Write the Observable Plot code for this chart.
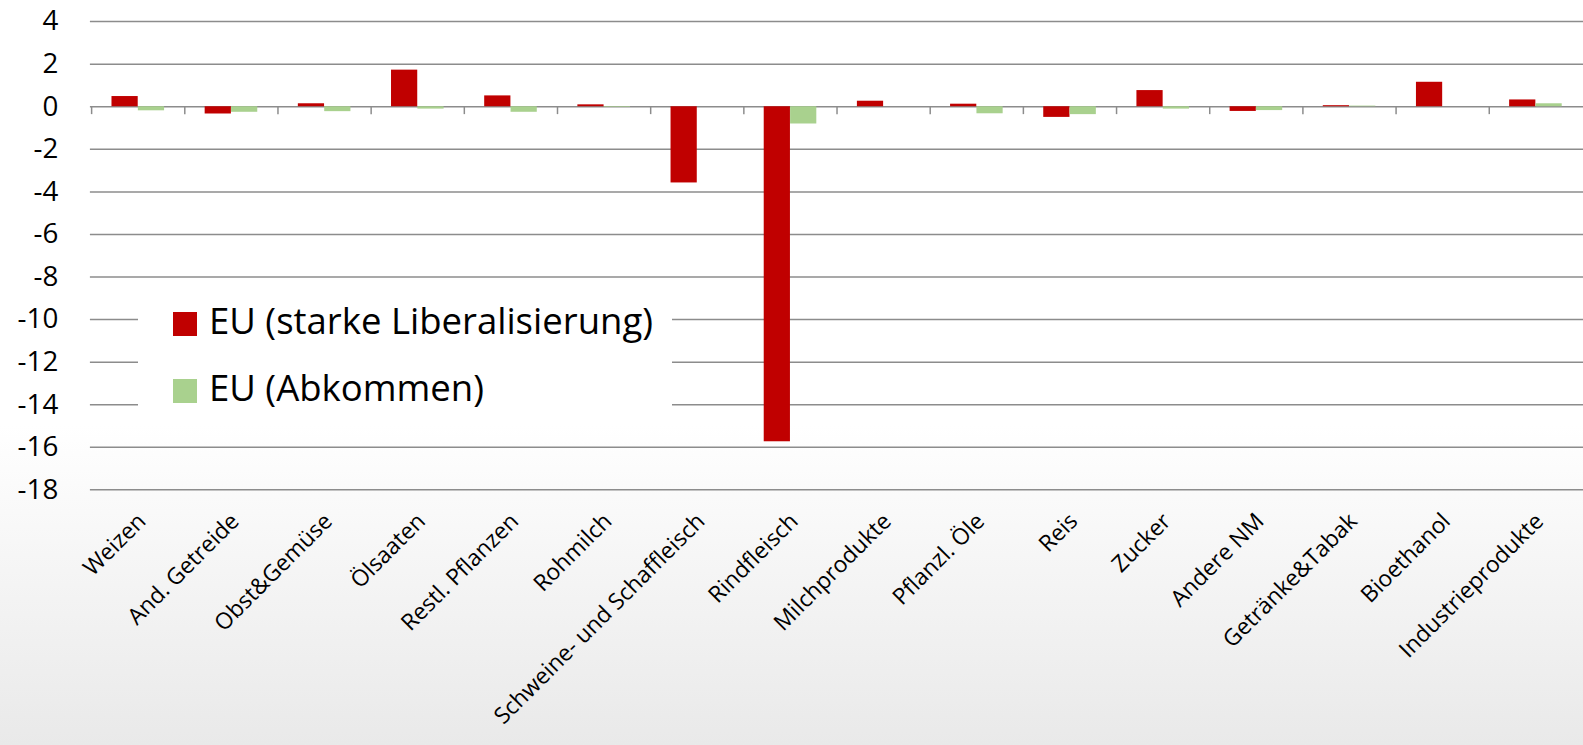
<!DOCTYPE html>
<html><head><meta charset="utf-8">
<script src="https://cdn.jsdelivr.net/npm/d3@7"></script>
<script src="https://cdn.jsdelivr.net/npm/@observablehq/plot@0.6"></script>
<style>
html,body{margin:0;padding:0;width:1583px;height:745px;overflow:hidden;}
body{background:linear-gradient(to bottom,#ffffff 0%,#ffffff 57%,#e9e9e9 100%);font-family:"Open Sans",sans-serif;position:relative;}
#chart{position:absolute;left:0;top:0;}
#legend{position:absolute;left:138px;top:288px;width:534px;height:137px;background:#fff;}
</style></head><body>
<div id="chart"></div>
<div id="legend"></div>
<script>
const categories = ["Weizen","And. Getreide","Obst&Gemüse","Ölsaaten","Restl. Pflanzen","Rohmilch","Schweine- und Schaffleisch","Rindfleisch","Milchprodukte","Pflanzl. Öle","Reis","Zucker","Andere NM","Getränke&Tabak","Bioethanol","Industrieprodukte"];
const seriesNames = ["EU (starke Liberalisierung)","EU (Abkommen)"];
const seriesColors = ["#C00000","#A9D18E"];
const liberal = [0.48,-0.34,0.14,1.72,0.51,0.09,-3.58,-15.74,0.26,0.12,-0.50,0.76,-0.22,0.05,1.15,0.32];
const agreement = [-0.19,-0.26,-0.23,-0.11,-0.26,-0.03,0,-0.81,0,-0.33,-0.37,-0.11,-0.18,0.03,0,0.14];
const yTicks = [4,2,0,-2,-4,-6,-8,-10,-12,-14,-16,-18];

const W = 1597, H = 745, ML = 90.7, MT = 21.3, MB = 745 - 493.7;
const band = (W - ML) / categories.length;
const barW = 26.6;
const FONT = "'Open Sans', sans-serif";

const rows = [];
categories.forEach((c,i)=>{
  rows.push({cat:c, series:seriesNames[0], value:liberal[i]});
  rows.push({cat:c, series:seriesNames[1], value:agreement[i]});
});
const grid = "#8c8c8c";

const chart = Plot.plot({
  width: W, height: H,
  marginLeft: ML, marginRight: 0, marginTop: MT, marginBottom: MB,
  style: {background: "transparent", fontFamily: FONT, color: "#000"},
  x: {type: "band", domain: categories, padding: 0, axis: null},
  y: {domain: [-18, 4], axis: null},
  color: {domain: seriesNames, range: seriesColors},
  marks: [
    Plot.ruleY(yTicks, {y: d=>d, stroke: grid, strokeWidth: 1.5}),
    Plot.ruleX(categories, {x: d=>d, dx: -band/2, y1: 0, y2: -0.37, stroke: grid, strokeWidth: 1.5}),
    Plot.barY(rows.filter(d=>d.series===seriesNames[0]), {x:"cat", y:"value", fill:"series", insetLeft: band/2 - barW, insetRight: band/2}),
    Plot.barY(rows.filter(d=>d.series===seriesNames[1]), {x:"cat", y:"value", fill:"series", insetLeft: band/2, insetRight: band/2 - barW}),
    Plot.text(yTicks, {y: d=>d, text: d=>String(d), frameAnchor: "left", dx: -32.4, textAnchor: "end", fontSize: 28, fill: "#000"}),
    Plot.text(categories, {x: d=>d, y: -18, text: d=>d, rotate: -45, textAnchor: "end", lineAnchor: "bottom", dx: 9, dy: 33, fontSize: 23, fill: "#000"})
  ]
});
document.getElementById("chart").appendChild(chart);

// legend
const lg = d3.select("#legend").append("svg").attr("width",534).attr("height",137);
const rowsY = [24, 91];
seriesNames.forEach((s,i)=>{
  lg.append("rect").attr("x",35).attr("y",rowsY[i]).attr("width",24).attr("height",24).attr("fill",seriesColors[i]);
  lg.append("text").attr("x",71).attr("y",rowsY[i]+22.3).attr("font-size",36.5).attr("font-family",FONT).attr("fill","#000").text(s);
});
</script>
</body></html>
